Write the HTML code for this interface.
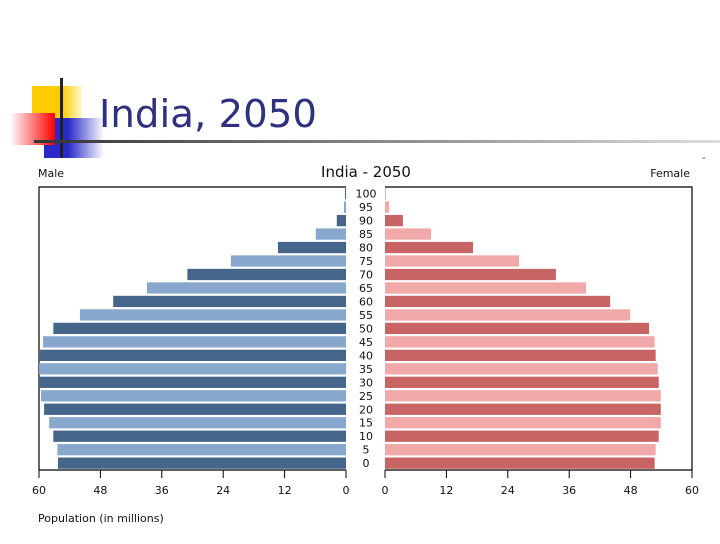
<!DOCTYPE html>
<html><head><meta charset="utf-8"><style>
body{margin:0;width:720px;height:540px;background:#fff;overflow:hidden;font-family:"DejaVu Sans","Liberation Sans",sans-serif}
</style></head><body>
<svg width="720" height="540">
<defs>
<linearGradient id="lg" x1="0" x2="1"><stop offset="0" stop-color="#333"/><stop offset="1" stop-color="#ddd"/></linearGradient>
<linearGradient id="rg" x1="1" x2="0"><stop offset="0" stop-color="#f00"/><stop offset="1" stop-color="#fff"/></linearGradient>
<linearGradient id="bg" x1="0" x2="1"><stop offset="0.4" stop-color="#2a2ac8"/><stop offset="1" stop-color="#fff"/></linearGradient>
<linearGradient id="yg" x1="0" x2="1"><stop offset="0.6" stop-color="#ffcc00"/><stop offset="1" stop-color="#fff8d0"/></linearGradient>
</defs>
<g>
<rect x="32" y="86" width="50" height="45" fill="url(#yg)"/>
<rect x="44" y="118" width="60" height="40" fill="url(#bg)"/>
<rect x="10" y="113" width="45" height="32" fill="url(#rg)"/>
<rect x="60" y="78" width="3" height="80" fill="#222"/>
<rect x="34" y="140" width="686" height="3" fill="url(#lg)"/>
</g>
<text x="99" y="127" font-family="DejaVu Sans, sans-serif" font-size="38" fill="#2e3080" textLength="218" lengthAdjust="spacingAndGlyphs">India, 2050</text>
<text x="702" y="161" font-size="10" fill="#333">-</text>
<text x="38" y="177" font-size="11" fill="#111">Male</text>
<text x="366" y="177" font-size="15" fill="#111" text-anchor="middle">India - 2050</text>
<text x="690" y="177" font-size="11" fill="#111" text-anchor="end">Female</text>
<g id="chart"></g>
<text x="38" y="522" font-size="11" fill="#111">Population (in millions)</text>
</svg>
<script>
const ages=[0,5,10,15,20,25,30,35,40,45,50,55,60,65,70,75,80,85,90,95,100];
const male=[56.3,56.4,57.2,58,59,59.6,60,60,59.8,59.2,57.2,52,45.5,38.9,31,22.5,13.3,5.9,1.8,0.4,0.2];
const female=[52.7,52.9,53.5,53.9,53.9,53.9,53.5,53.3,52.9,52.7,51.6,47.9,44,39.3,33.4,26.2,17.2,9,3.5,0.8,0.1];
const ticks=[0,12,24,36,48,60];
const NS="http://www.w3.org/2000/svg",chartG=document.getElementById('chart');
const L0=346,R0=385,sc=307/60,plotTop=187,plotBot=470,rowH=(plotBot-plotTop)/21;
const xm=v=>L0-v*sc, xf=v=>R0+v*sc, yr=i=>plotBot-(i+1)*rowH;
function mk(t,a){const el=document.createElementNS(NS,t);for(const k in a)el.setAttribute(k,a[k]);chartG.appendChild(el);return el;}
let e;
e=mk('path',{d:`M${L0} ${plotTop}H39V${plotBot}H${L0}`,fill:'none',stroke:'#000','stroke-width':1.2});


e=mk('path',{d:`M${R0} ${plotTop}H692V${plotBot}H${R0}`,fill:'none',stroke:'#000','stroke-width':1.2});


ages.forEach((a,i)=>{
 const y=yr(i)+1,h=rowH-2.2,dark=i%2==0;
 e=mk('rect',{x:xm(male[i]),y:y,width:male[i]*sc,height:h,fill:dark?'#46658a':'#87a7cc'});
 
 
 e=mk('rect',{x:R0,y:y,width:female[i]*sc,height:h,fill:dark?'#c96464':'#f0a8a8'});
 
 
 e=mk('text',{x:366,y:y+h/2+4,'font-size':11,'text-anchor':'middle',fill:'#111'});
 e.textContent=a;
 
 
});
ticks.forEach(t=>{
 [[xm(t),'male'],[xf(t),'female']].forEach(([x,s])=>{
  e=mk('line',{x1:x,x2:x,y1:plotBot,y2:plotBot+8,stroke:'#000'});
  
  
  e=mk('text',{x:x,y:plotBot+24,'font-size':11,'text-anchor':'middle',fill:'#111'});
  e.textContent=t;
  
  
 });
});
</script>
</body></html>
